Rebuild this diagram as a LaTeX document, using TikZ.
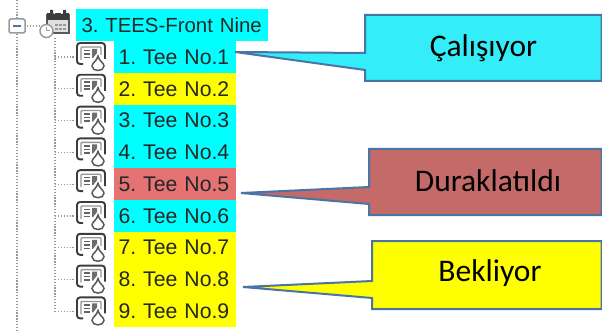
\documentclass[tikz,border=0pt]{standalone}
\usepackage{fontspec}
\setmainfont{Liberation Sans}
\newfontfamily\calloutfont{Carlito}
\definecolor{cyanrow}{HTML}{00FFFF}
\definecolor{yellowrow}{HTML}{FFFF00}
\definecolor{redrow}{HTML}{E57373}
\definecolor{runfill}{HTML}{33EEF8}
\definecolor{pausefill}{HTML}{C46A68}
\definecolor{edgeblue}{HTML}{4A74A6}
\definecolor{icongrey}{HTML}{3C3C3C}
\definecolor{treegrey}{HTML}{9A9A9A}
\tikzset{
  x=1pt,y=-1pt,
  rowbox/.style={anchor=west,minimum width=122pt,minimum height=31.8pt,inner sep=0pt,outer sep=0pt,
    font=\frenchspacing\fontsize{21.2pt}{24pt}\selectfont,text=black!85,align=left,text width=113pt},
  treeline/.style={treegrey,line width=1.3pt,dash pattern=on 1.3pt off 1.6pt},
  bubble/.style={draw=edgeblue,line width=2pt,line join=miter},
  bubbletext/.style={font=\calloutfont\fontsize{31.5pt}{34pt}\selectfont,text=black,inner sep=0pt},
  pics/teeicon/.style={code={
    \draw[icongrey,line width=1.9pt,rounded corners=3pt] (-8,7) -- (-14,7) -- (-14,-14) -- (14,-14) -- (14,2);
    \draw[icongrey!55,line width=1.3pt,rounded corners=1pt] (-10,3) -- (-10,-10) -- (10,-10) -- (10,-2);
    \draw[icongrey!80,line width=1.6pt] (-7,-6.5) -- (-1,-6.5) (-7,-3) -- (-1,-3) (-7,0.5) -- (-1,0.5);
    \fill[icongrey!75] (1,-8) -- (6,-8) -- (6,-4) -- (2,1) -- (1,1) -- cycle;
    \filldraw[fill=white,draw=icongrey!85,line width=1.5pt] (7,-1) .. controls (8,4) and (13,6) .. (13,9) .. controls (13,15) and (1,15) .. (1,9) .. controls (1,6) and (6,4) .. (7,-1) -- cycle;
  }}
}
\begin{document}
\begin{tikzpicture}
\useasboundingbox (0,0) rectangle (602,331);
\fill[white] (0,0) rectangle (602,331);

% tree lines
\draw[treeline] (17,0) -- (17,18);
\draw[treeline] (17,34) -- (17,331);
\draw[treeline] (27,26) -- (41,26);
\draw[treeline] (55,38) -- (55,313);

% header row
\node[rowbox,fill=cyanrow,minimum width=192pt,text width=181pt,minimum height=32pt,font=\frenchspacing\fontsize{20.4pt}{24pt}\selectfont] (head) at (76,25) {\mbox{3. TEES-Front Nine}};

% rows
\foreach \n/\c [count=\i from 0] in {1/cyanrow,2/yellowrow,3/cyanrow,4/cyanrow,5/redrow,6/cyanrow,7/yellowrow,8/yellowrow,9/yellowrow}{
  \pgfmathsetmacro{\yy}{57+31.8*\i}
  \node[rowbox,fill=\c] (row\n) at (114,\yy) {\mbox{\n. Tee No.\n}};
  \draw[treeline] (55,\yy) -- (75,\yy);
  \pic at (91,\yy) {teeicon};
}

% collapse box
\filldraw[fill=white,draw=treegrey,line width=1.5pt,rounded corners=1.5pt] (9,19) rectangle (25,33);
\draw[edgeblue,line width=1.8pt] (13,26) -- (21,26);

% calendar icon
\filldraw[fill=black!12,draw=icongrey!85,line width=1.7pt] (47,15) rectangle (69,33);
\fill[icongrey] (47,13) rectangle (69,20);
\fill[icongrey] (50,10) rectangle (53,15) (63,10) rectangle (66,15);
\fill[white] (53.5,12) rectangle (55,14) (61,12) rectangle (62.5,14);
\foreach \px in {55,59,63}{\fill[treegrey] (\px,24) rectangle +(3,2); \fill[treegrey] (\px,28) rectangle +(3,2);}
\filldraw[fill=white,draw=treegrey,line width=1.5pt] (46.5,31) circle (6.5);
\draw[treegrey,line width=1pt] (46.5,27.5) -- (46.5,31) -- (49.5,31);

% callouts
\coordinate (tipA) at ([shift={(-1,-5)}]row1.east);
\coordinate (tipB) at ([shift={(5,8.8)}]row5.east);
\coordinate (tipC) at ([shift={(7,7.4)}]row8.east);

\filldraw[bubble,fill=runfill] (365,15) -- (601.5,15) -- (601.5,81) -- (365,81) -- (365,70) -- (tipA) -- (365,53) -- cycle;
\filldraw[bubble,fill=pausefill] (369,149) -- (601.5,149) -- (601.5,215) -- (369,215) -- (369,204) -- (tipB) -- (369,187) -- cycle;
\filldraw[bubble,fill=yellowrow] (372,241) -- (601.5,241) -- (601.5,309) -- (372,309) -- (372,298) -- (tipC) -- (372,281) -- cycle;

\node[bubbletext] (run) at (483.5,48) {Çalışıyor};
\node[bubbletext] (pause) at (488,181) {Duraklatıldı};
\node[bubbletext] (wait) at (490,273.5) {Bekliyor};
\end{tikzpicture}
\end{document}
